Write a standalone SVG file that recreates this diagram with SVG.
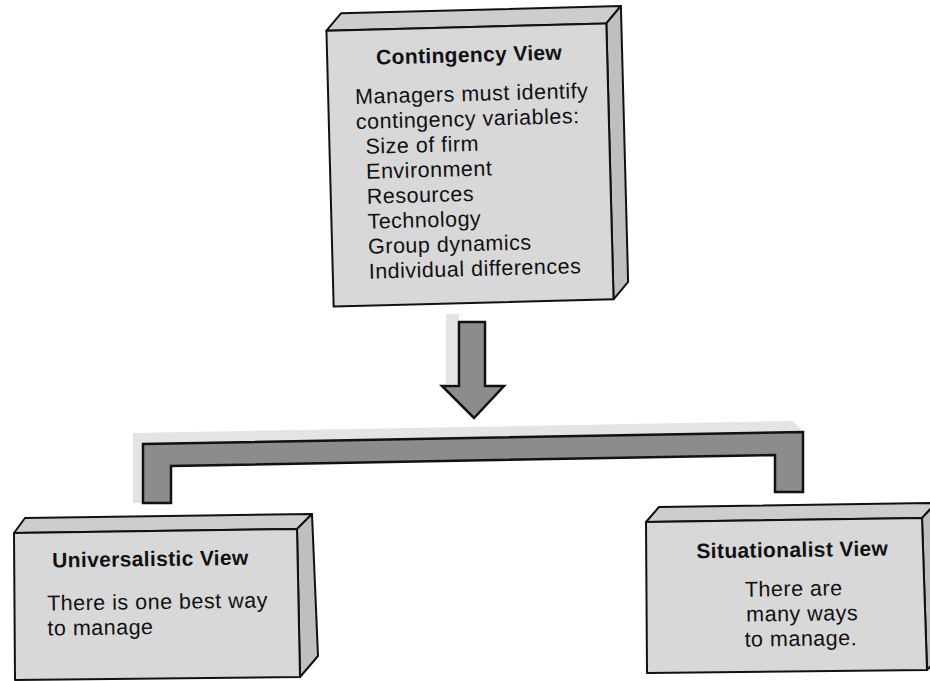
<svg xmlns="http://www.w3.org/2000/svg" width="930" height="681" viewBox="0 0 930 681">
  <style>
    .front { fill: #d8d8d8; stroke: #111; stroke-width: 2; stroke-linejoin: round; }
    .top   { fill: #cdcdcd; stroke: #111; stroke-width: 2; stroke-linejoin: round; }
    .side  { fill: #bfbfbf; stroke: #111; stroke-width: 2; stroke-linejoin: round; }
    .title { font-family: "Liberation Sans", Arial, sans-serif; font-weight: bold; font-size: 21px; letter-spacing: 0.35px; fill: #111; }
    .body  { font-family: "Liberation Sans", Arial, sans-serif; font-size: 21.5px; letter-spacing: 0.5px; fill: #111; }
    .conn  { fill: #8c8c8c; stroke: #111; stroke-width: 2.5; stroke-linejoin: miter; }
    .haze  { fill: #e4e4e4; }
  </style>

  <rect x="0" y="0" width="930" height="681" fill="#ffffff"/>

  <!-- Top block: contingency view -->
  <g id="contingency-view" transform="rotate(-1.5 470 165)">
    <polygon class="top" points="330,27 345,10 625,10 610,27"/>
    <polygon class="side" points="610,27 625,10 625,286 610,303"/>
    <rect class="front" x="330" y="27" width="280" height="276"/>
    <text class="title" x="472" y="62" text-anchor="middle">Contingency View</text>
    <text class="body" x="357" y="101">Managers must identify</text>
    <text class="body" x="357" y="126">contingency variables:</text>
    <text class="body" x="366" y="151">Size of firm</text>
    <text class="body" x="366" y="176">Environment</text>
    <text class="body" x="366" y="201">Resources</text>
    <text class="body" x="366" y="226">Technology</text>
    <text class="body" x="366" y="251">Group dynamics</text>
    <text class="body" x="366" y="276">Individual differences</text>
  </g>

  <!-- Connectors: down arrow and splitting bracket -->
  <g id="connectors">
    <polygon class="haze" points="446,314 459,314 459,384 446,384"/>
    <polygon class="haze" points="133,444 133,433 793,421 803,432"/>
    <polygon class="haze" points="133,444 143,444 143,503 133,503"/>
    <polygon class="conn" points="459,322 485,322 485,386 504,386 474,418 442,386 459,386"/>
    <polygon class="conn" points="143,444 803,432 803,492 775,492 775,455 171,466 171,503 143,503"/>
  </g>

  <!-- Lower left block: universalistic view -->
  <g id="universalistic-view">
    <polygon class="top" points="14,533 25,518 312,514 297,529"/>
    <polygon class="side" points="297,529 312,514 318,656 300,677"/>
    <polygon class="front" points="14,533 297,529 300,677 15,680"/>
    <g transform="rotate(-0.8 157 600)">
      <text class="title" x="151" y="566" text-anchor="middle">Universalistic View</text>
      <text class="body" x="47" y="609">There is one best way</text>
      <text class="body" x="47" y="634">to manage</text>
    </g>
  </g>

  <!-- Lower right block: situationalist view -->
  <g id="situationalist-view">
    <polygon class="top" points="646,522 659,507 936,503 922,518"/>
    <polygon class="side" points="922,518 936,503 936,660 927,670"/>
    <polygon class="front" points="646,522 922,518 927,670 647,673"/>
    <g transform="rotate(-0.8 790 600)">
      <text class="title" x="793" y="557" text-anchor="middle">Situationalist View</text>
      <text class="body" x="745" y="596">There are</text>
      <text class="body" x="746" y="621">many ways</text>
      <text class="body" x="744" y="646">to manage.</text>
    </g>
  </g>
</svg>
